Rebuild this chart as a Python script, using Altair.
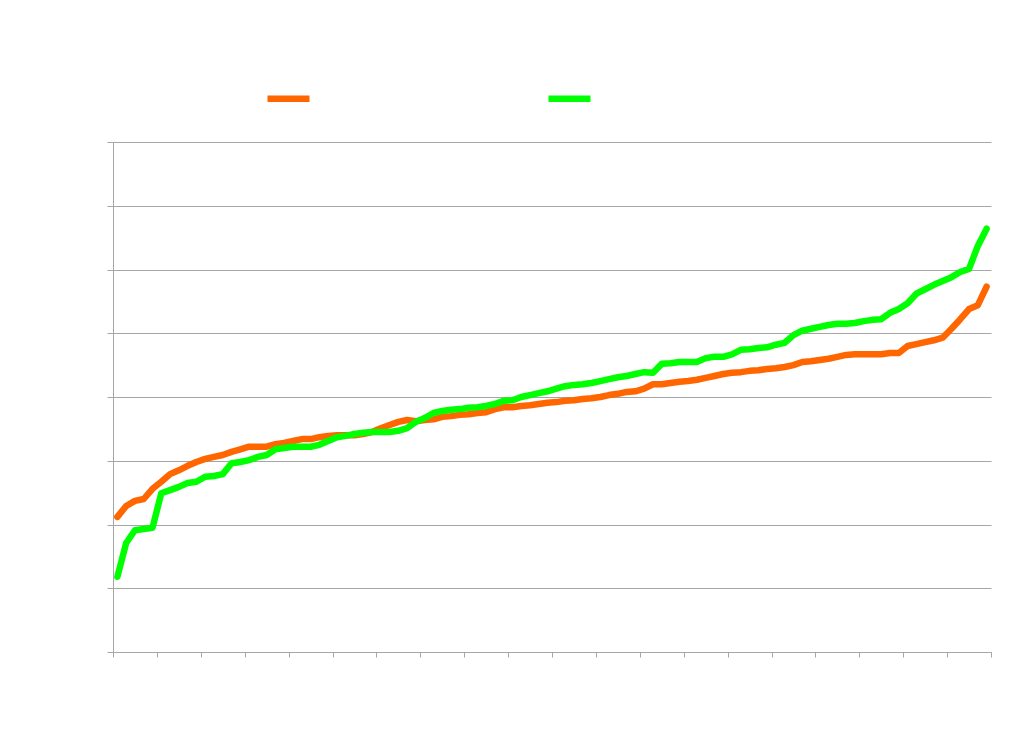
import altair as alt
import pandas as pd

orange_vals = [
    21.2, 22.9, 23.7, 24.0, 25.6, 26.7, 27.9, 28.5, 29.2, 29.8,
    30.3, 30.6, 30.9, 31.4, 31.8, 32.2, 32.2, 32.2, 32.6, 32.8,
    33.1, 33.4, 33.4, 33.7, 33.9, 34.0, 34.0, 34.0, 34.2, 34.5,
    35.1, 35.6, 36.1, 36.4, 36.2, 36.4, 36.5, 36.9, 37.0, 37.2,
    37.3, 37.5, 37.6, 38.1, 38.4, 38.4, 38.6, 38.7, 38.9, 39.1,
    39.2, 39.4, 39.5, 39.7, 39.8, 40.0, 40.3, 40.5, 40.8, 40.9,
    41.3, 42.0, 42.0, 42.2, 42.4, 42.5, 42.7, 43.0, 43.3, 43.6,
    43.8, 43.9, 44.1, 44.2, 44.4, 44.5, 44.7, 45.0, 45.5, 45.6,
    45.8, 46.0, 46.3, 46.6, 46.7, 46.7, 46.7, 46.7, 46.9, 46.9,
    48.0, 48.3, 48.6, 48.9, 49.3, 50.7, 52.2, 53.8, 54.4, 57.3,
]
green_vals = [
    11.8, 17.1, 19.1, 19.3, 19.5, 24.9, 25.4, 25.9, 26.5, 26.7,
    27.5, 27.6, 27.9, 29.6, 29.8, 30.1, 30.6, 30.9, 31.8, 32.0,
    32.2, 32.2, 32.2, 32.5, 33.1, 33.7, 33.9, 34.2, 34.4, 34.5,
    34.5, 34.5, 34.7, 35.1, 36.1, 36.7, 37.5, 37.8, 38.0, 38.1,
    38.3, 38.4, 38.6, 38.9, 39.4, 39.5, 40.0, 40.3, 40.6, 40.9,
    41.3, 41.7, 41.9, 42.0, 42.2, 42.5, 42.8, 43.1, 43.3, 43.6,
    43.9, 43.8, 45.2, 45.3, 45.5, 45.5, 45.5, 46.1, 46.3, 46.3,
    46.7, 47.4, 47.5, 47.7, 47.8, 48.2, 48.5, 49.7, 50.4, 50.7,
    51.0, 51.3, 51.5, 51.5, 51.6, 51.9, 52.1, 52.2, 53.2, 53.8,
    54.7, 56.2, 56.9, 57.6, 58.2, 58.8, 59.6, 60.1, 63.7, 66.4,
]
series_names = ["Series 1", "Series 2"]
series_colors = ["#FF6600", "#00FF00"]

rows = []
for name, vals in zip(series_names, [orange_vals, green_vals]):
    for i, v in enumerate(vals):
        rows.append({"series": name, "obs": i + 1, "value": v})
df = pd.DataFrame(rows)
# category centres, like a category axis in a spreadsheet chart
df["pos"] = df["obs"] - 0.5

chart = alt.Chart(df).mark_line(
    strokeWidth=6.5, strokeCap="round", strokeJoin="round"
).encode(
    x=alt.X("pos:Q",
            scale=alt.Scale(domain=[0, 100], nice=False, zero=False),
            axis=alt.Axis(values=list(range(0, 101, 5)), labels=False, title=None,
                          grid=False, domainColor="#a6a6a6", tickColor="#a6a6a6",
                          tickSize=5)),
    y=alt.Y("value:Q",
            scale=alt.Scale(domain=[0, 80], nice=False),
            axis=alt.Axis(values=list(range(0, 81, 10)), labels=False, title=None,
                          grid=True, gridColor="#a6a6a6", domainColor="#a6a6a6",
                          tickColor="#a6a6a6", tickSize=6)),
    color=alt.Color("series:N",
                    scale=alt.Scale(domain=series_names, range=series_colors),
                    legend=alt.Legend(orient="none", legendX=151, legendY=-68,
                                      direction="horizontal", title=None,
                                      symbolType="stroke", symbolSize=1764,
                                      symbolStrokeWidth=6.5, labelExpr="''",
                                      labelOffset=0, columnPadding=212)),
    order="obs:Q",
).properties(
    width=878,
    height=510,
    autosize=alt.AutoSizeParams(type="none"),
    padding={"left": 105, "top": 134, "right": 25, "bottom": 80},
).configure_view(
    stroke=None
)

chart.save("out.html", embed_options={"renderer": "svg", "actions": False})
